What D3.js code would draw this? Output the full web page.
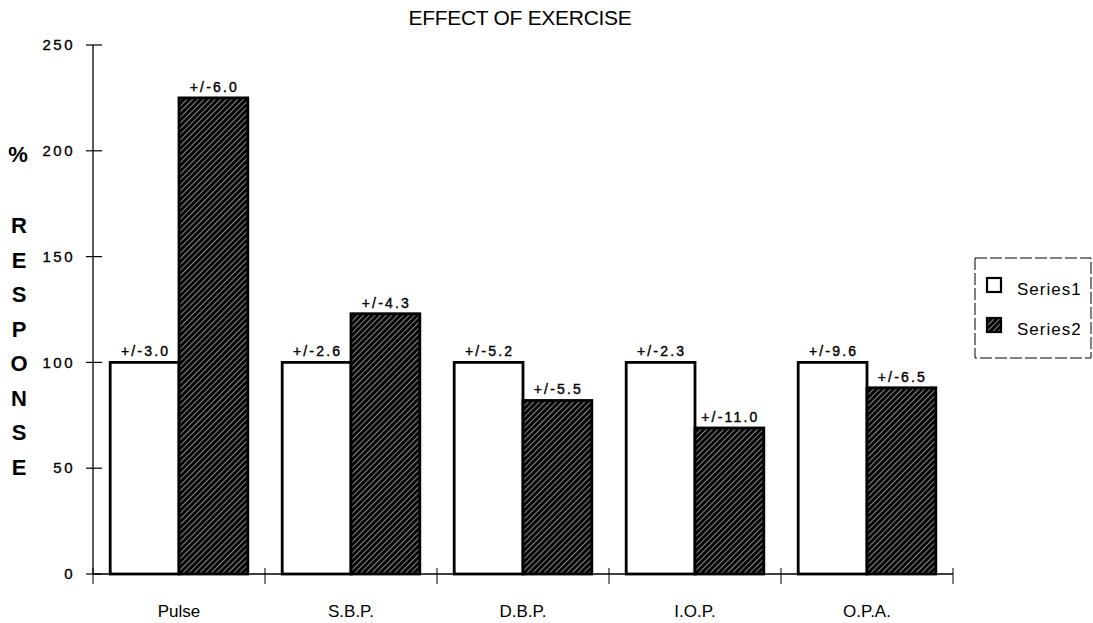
<!DOCTYPE html>
<html lang="en">
<head>
<meta charset="UTF-8">
<title>Effect of Exercise</title>
<script src="https://d3js.org/d3.v7.min.js"></script>
<style>
  body { margin: 0; background: #fff; font-family: "Liberation Sans", Arial, sans-serif; }
  .tick-label { font-size: 15px; letter-spacing: 2.5px; fill: #000; stroke: #000; stroke-width: 0.35px; }
  .err { font-size: 14px; letter-spacing: 2.2px; fill: #000; stroke: #000; stroke-width: 0.4px; }
  .cat { font-size: 17px; fill: #000; }
  .yl { font-size: 22px; font-weight: bold; fill: #000; }
</style>
</head>
<body>
<div id="chart"></div>
<script>
// data
const categories = ["Pulse", "S.B.P.", "D.B.P.", "I.O.P.", "O.P.A."];
const series1 = [100, 100, 100, 100, 100];
const series2 = [225, 123, 82, 69, 88];
const err1 = ["+/-3.0", "+/-2.6", "+/-5.2", "+/-2.3", "+/-9.6"];
const err2 = ["+/-6.0", "+/-4.3", "+/-5.5", "+/-11.0", "+/-6.5"];
const yTicks = [0, 50, 100, 150, 200, 250];
const seriesNames = ["Series1", "Series2"];

const W = 1093, H = 623;
const plotLeft = 93, plotRight = 953, plotTop = 45, plotBottom = 574;

const svg = d3.select("#chart").append("svg")
  .attr("width", W).attr("height", H);

// hatch pattern (mostly black, thin white diagonals)
const defs = svg.append("defs");
const pat = defs.append("pattern")
  .attr("id", "hatch")
  .attr("patternUnits", "userSpaceOnUse")
  .attr("width", 4).attr("height", 4)
  .attr("patternTransform", "rotate(45)");
pat.append("rect").attr("width", 4).attr("height", 4).attr("fill", "#000");
pat.append("line").attr("x1", 0).attr("y1", 0).attr("x2", 0).attr("y2", 4)
  .attr("stroke", "#fff").attr("stroke-width", 1.1);

const x = d3.scaleBand().domain(categories).range([plotLeft, plotRight]).paddingInner(0.2).paddingOuter(0.1);
const xb = d3.scaleBand().domain(categories).range([plotLeft, plotRight]);
const x1 = d3.scaleBand().domain([0, 1]).range([0, x.bandwidth()]);
const y = d3.scaleLinear().domain([0, 250]).range([plotBottom, plotTop]);

// title
svg.append("text")
  .attr("x", 520).attr("y", 25)
  .attr("text-anchor", "middle")
  .style("font-size", "21px")
  .style("letter-spacing", "-0.3px")
  .text("EFFECT OF EXERCISE");

// y axis
const yAxis = svg.append("g").attr("transform", `translate(${plotLeft},0)`);
yAxis.append("line").attr("x1", 0).attr("x2", 0).attr("y1", y(250)).attr("y2", y(0))
  .attr("stroke", "#000").attr("stroke-width", 1.3);
yAxis.selectAll(".t").data(yTicks).join("line")
  .attr("x1", -7).attr("x2", 9).attr("y1", d => y(d)).attr("y2", d => y(d))
  .attr("stroke", "#000").attr("stroke-width", 1.2);
yAxis.selectAll(".tick-label").data(yTicks).join("text")
  .attr("class", "tick-label")
  .attr("x", -18).attr("y", d => y(d)).attr("dy", "0.35em")
  .attr("text-anchor", "end")
  .text(d => d);

// y label
svg.append("text")
  .attr("class", "yl")
  .attr("x", 18).attr("y", 162)
  .attr("text-anchor", "middle")
  .text("%");
const letters = "RESPONSE".split("");
svg.selectAll(".yl-letter").data(letters).join("text")
  .attr("class", "yl yl-letter")
  .attr("x", 19).attr("y", (d, i) => 233 + i * 34.5)
  .attr("text-anchor", "middle")
  .text(d => d);

// x axis
svg.append("line").attr("x1", plotLeft).attr("x2", plotRight).attr("y1", y(0)).attr("y2", y(0))
  .attr("stroke", "#000").attr("stroke-width", 1.3);
const bounds = categories.map(c => xb(c)).concat([plotRight]);
svg.selectAll(".xt").data(bounds).join("line")
  .attr("x1", d => d).attr("x2", d => d).attr("y1", y(0) - 6).attr("y2", y(0) + 10)
  .attr("stroke", "#000").attr("stroke-width", 1);
svg.selectAll(".cat").data(categories).join("text")
  .attr("class", "cat")
  .attr("x", d => xb(d) + xb.bandwidth() / 2).attr("y", 617)
  .attr("text-anchor", "middle")
  .text(d => d);

// bars
const rows = categories.map((c, i) => ({ c, v: [series1[i], series2[i]], e: [err1[i], err2[i]] }));
const groups = svg.selectAll(".grp").data(rows).join("g")
  .attr("transform", d => `translate(${x(d.c)},0)`);
groups.selectAll("rect").data(d => d.v.map((v, k) => ({ v, k }))).join("rect")
  .attr("x", d => x1(d.k)).attr("width", x1.bandwidth())
  .attr("y", d => y(d.v)).attr("height", d => y(0) - y(d.v))
  .attr("fill", d => d.k === 0 ? "#fff" : "url(#hatch)")
  .attr("stroke", "#000").attr("stroke-width", 2.8);
groups.selectAll(".err").data(d => d.v.map((v, k) => ({ v, k, e: d.e[k] }))).join("text")
  .attr("class", "err")
  .attr("x", d => x1(d.k) + x1.bandwidth() / 2 + 1).attr("y", d => y(d.v) - 6)
  .attr("text-anchor", "middle")
  .text(d => d.e);

// legend
const lg = svg.append("g").attr("transform", "translate(975,258)");
lg.append("rect").attr("width", 116).attr("height", 100)
  .attr("fill", "none").attr("stroke", "#000").attr("stroke-width", 1)
  .attr("stroke-dasharray", "12,3");
lg.selectAll(".sw").data(seriesNames).join("rect")
  .attr("x", 12).attr("y", (d, i) => 20 + i * 40).attr("width", 14).attr("height", 14)
  .attr("fill", (d, i) => i === 0 ? "#fff" : "url(#hatch)")
  .attr("stroke", "#000").attr("stroke-width", 2.2);
lg.selectAll(".lt").data(seriesNames).join("text")
  .attr("x", 42).attr("y", (d, i) => 37 + i * 40)
  .style("font-size", "17px").style("letter-spacing", "1px")
  .text(d => d);
</script>
</body>
</html>
